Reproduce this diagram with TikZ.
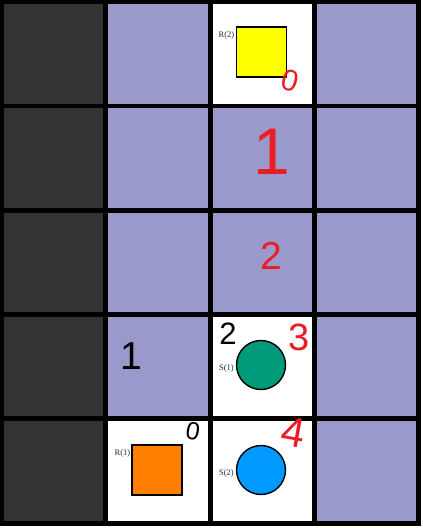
\documentclass[tikz,border=0pt]{standalone}
\usepackage{fontspec}
\setmainfont{Liberation Serif}
\setsansfont{Liberation Sans}
\definecolor{darkcell}{RGB}{51,51,51}
\definecolor{freecell}{RGB}{153,153,204}
\definecolor{penred}{RGB}{237,28,36}
\definecolor{robyellow}{RGB}{255,255,0}
\definecolor{roborange}{RGB}{255,128,0}
\definecolor{sgreen}{RGB}{0,153,122}
\definecolor{sblue}{RGB}{0,153,255}
\definecolor{labelc}{RGB}{30,40,64}
\tikzset{
  cellbox/.style={draw=none,inner sep=0pt,minimum width=99.2pt,minimum height=99.3pt,anchor=north west},
  wall/.style={cellbox,fill=darkcell},
  free/.style={cellbox,fill=freecell},
  open/.style={cellbox,fill=white},
  robot/.style={draw=black,line width=1.4pt,minimum size=50pt,inner sep=0pt},
  station/.style={circle,draw=black,line width=1.4pt,minimum size=49pt,inner sep=0pt},
  tag/.style={text=labelc,font=\fontsize{8.5}{9}\selectfont,inner sep=0pt},
  redpen/.style={text=penred,inner sep=0pt},
  blackpen/.style={text=black,inner sep=0pt}
}
\begin{document}
\begin{tikzpicture}[x=1pt,y=-1pt]
\useasboundingbox (0,0) rectangle (423,528);
\fill[white] (0,0) rectangle (423,528);
\fill[black] (0,0) rectangle (421,526);
% row 0
\node[wall] (c00) at (4,4) {};
\node[free] (c01) at (108.2,4) {};
\node[open] (c02) at (212.4,4) {};
\node[free] (c03) at (316.6,4) {};
% row 1
\node[wall] (c10) at (4,108.2) {};
\node[free] (c11) at (108.2,108.2) {};
\node[free] (c12) at (212.4,108.2) {};
\node[free] (c13) at (316.6,108.2) {};
% row 2
\node[wall] (c20) at (4,212.4) {};
\node[free] (c21) at (108.2,212.4) {};
\node[free] (c22) at (212.4,212.4) {};
\node[free] (c23) at (316.6,212.4) {};
% row 3
\node[wall] (c30) at (4,316.6) {};
\node[free] (c31) at (108.2,316.6) {};
\node[open] (c32) at (212.4,316.6) {};
\node[free] (c33) at (316.6,316.6) {};
% row 4
\node[wall,minimum height=100.4pt] (c40) at (4,420.6) {};
\node[open,minimum height=100.4pt] (c41) at (108.2,420.6) {};
\node[open,minimum height=100.4pt] (c42) at (212.4,420.6) {};
\node[free,minimum height=100.4pt] (c43) at (316.6,420.6) {};
% robots and stations
\node[robot,fill=robyellow] (r2) at (261.5,52) {};
\node[tag,anchor=east] (r2l) at (234.5,35.5) {R(2)};
\node[robot,fill=roborange] (r1) at (157,470) {};
\node[tag,anchor=east] (r1l) at (130.5,453.5) {R(1)};
\node[station,fill=sgreen] (s1) at (261,365) {};
\node[tag,anchor=east] (s1l) at (234,368.5) {S(1)};
\node[station,fill=sblue] (s2) at (261,470) {};
\node[tag,anchor=east] (s2l) at (234,473.5) {S(2)};
% red path annotations
\node[redpen,font=\sffamily\fontsize{30}{30}\selectfont,rotate=-15] (p0) at (290,81) {0};
\node[redpen,font=\sffamily\fontsize{66}{66}\selectfont] (p1) at (272,152) {1};
\node[redpen,font=\sffamily\fontsize{39}{39}\selectfont] (p2) at (271,256) {2};
\node[redpen,font=\sffamily\fontsize{38}{38}\selectfont] (p3) at (299,337) {3};
\node[redpen,font=\sffamily\fontsize{42}{42}\selectfont,rotate=-10] (p4) at (294,432) {4};
% black path annotations
\node[blackpen,font=\sffamily\fontsize{25}{25}\selectfont,rotate=-10] (b0) at (193,431) {0};
\node[blackpen,font=\sffamily\fontsize{39}{39}\selectfont] (b1) at (131,356) {1};
\node[blackpen,font=\sffamily\fontsize{31}{31}\selectfont] (b2) at (228,334) {2};
\end{tikzpicture}
\end{document}
